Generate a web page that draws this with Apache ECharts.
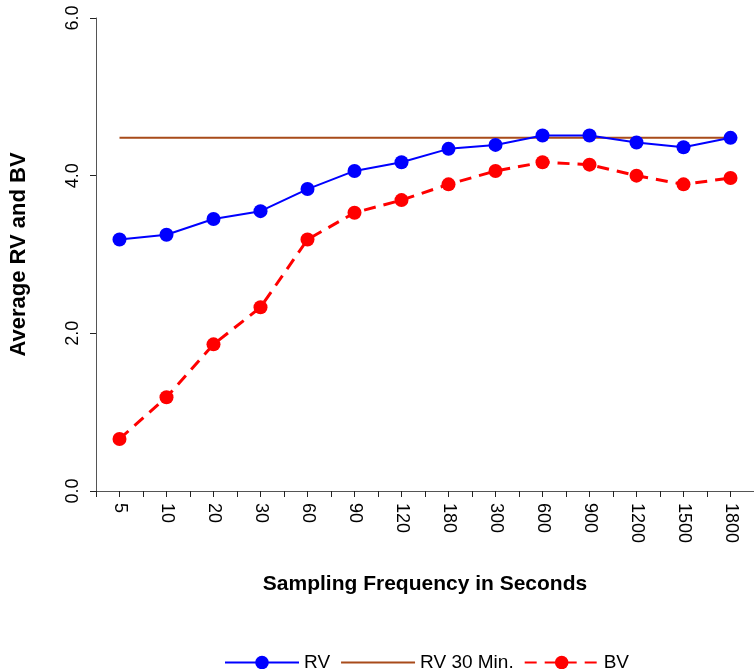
<!DOCTYPE html>
<html>
<head>
<meta charset="utf-8">
<script src="https://cdn.jsdelivr.net/npm/echarts@6/dist/echarts.min.js"></script>
<style>
  html, body { margin: 0; padding: 0; background: #fff; }
  #chart { width: 754px; height: 669px; }
</style>
</head>
<body>
<div id="chart"></div>
<script>
const frequencies = ['5', '10', '20', '30', '60', '90', '120', '180', '300', '600', '900', '1200', '1500', '1800']
const rv = [3.19, 3.25, 3.45, 3.55, 3.83, 4.06, 4.17, 4.34, 4.39, 4.51, 4.51, 4.42, 4.36, 4.48]
const rv30 = [4.48, 4.48, 4.48, 4.48, 4.48, 4.48, 4.48, 4.48, 4.48, 4.48, 4.48, 4.48, 4.48, 4.48]
const bv = [0.66, 1.19, 1.86, 2.33, 3.19, 3.53, 3.69, 3.89, 4.06, 4.17, 4.14, 4.00, 3.89, 3.97]

const font = 'Liberation Sans, Arial, sans-serif'
const chart = echarts.init(document.getElementById('chart'))

const options = {
  backgroundColor: '#fff',
  animation: false,
  textStyle: { fontFamily: font, color: '#000' },
  grid: {
    left: 95,
    right: -5,
    top: 18,
    bottom: 178,
    containLabel: false
  },
  legend: {
    left: 219,
    top: 648,
    itemWidth: 74,
    itemHeight: 17,
    itemGap: 10,
    textStyle: { fontSize: 19, fontFamily: font, color: '#000' },
    data: [
      'RV',
      { name: 'RV 30 Min.', itemStyle: { opacity: 0 } },
      'BV'
    ]
  },
  xAxis: [
    {
      type: 'category',
      data: frequencies,
      boundaryGap: true,
      name: 'Sampling Frequency in Seconds',
      nameLocation: 'middle',
      nameGap: 83,
      nameTextStyle: { fontSize: 21, fontWeight: 'bold', fontFamily: font, color: '#000' },
      axisLine: { lineStyle: { color: '#555', width: 1 } },
      axisTick: { show: true, length: 6, lineStyle: { color: '#222' } },
      axisLabel: { rotate: -90, fontSize: 18, color: '#000', margin: 12, interval: 0 },
      splitLine: { show: false }
    },
    {
      type: 'category',
      data: frequencies,
      position: 'bottom',
      boundaryGap: true,
      axisLine: { show: false },
      axisTick: { show: true, alignWithLabel: true, length: 6, lineStyle: { color: '#222' } },
      axisLabel: { show: false },
      splitLine: { show: false }
    }
  ],
  yAxis: {
    type: 'value',
    min: 0,
    max: 6,
    interval: 2,
    name: 'Average RV and BV',
    nameLocation: 'middle',
    nameRotate: 90,
    nameGap: 66,
    nameTextStyle: { fontSize: 22, fontWeight: 'bold', fontFamily: font, color: '#000' },
    axisLine: { show: true, lineStyle: { color: '#555', width: 1 } },
    axisTick: { show: true, length: 6, lineStyle: { color: '#222' } },
    axisLabel: {
      rotate: 90,
      fontSize: 18,
      color: '#000',
      margin: 14,
      formatter: v => v.toFixed(1)
    },
    splitLine: { show: false }
  },
  series: [
    {
      name: 'RV',
      type: 'line',
      data: rv,
      symbol: 'circle',
      symbolSize: 14,
      itemStyle: { color: '#0000FF' },
      lineStyle: { color: '#0000FF', width: 2 },
      z: 3
    },
    {
      name: 'RV 30 Min.',
      type: 'line',
      data: rv30,
      symbol: 'none',
      showSymbol: false,
      itemStyle: { color: '#A84B1A' },
      lineStyle: { color: '#A84B1A', width: 2 },
      z: 2
    },
    {
      name: 'BV',
      type: 'line',
      data: bv,
      symbol: 'circle',
      symbolSize: 14,
      itemStyle: { color: '#FF0000' },
      lineStyle: { color: '#FF0000', width: 3, type: [12, 8] },
      z: 3
    }
  ]
}

chart.setOption(options)
</script>
</body>
</html>
